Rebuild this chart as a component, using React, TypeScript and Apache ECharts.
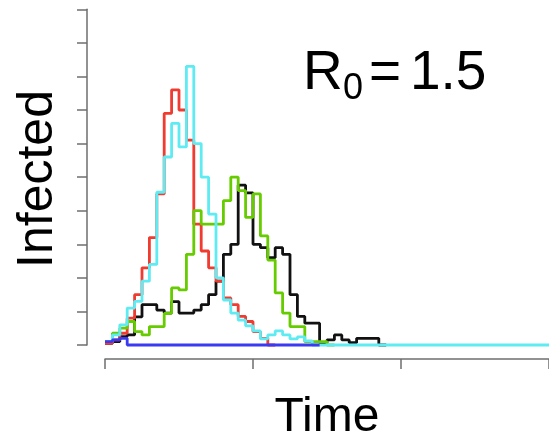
import React, { useEffect, useRef } from "react";
import * as echarts from "echarts";

// Infected counts per unit time step (t = 0, 1, 2, ...)
const redValues = [0.5, 1.5, 3.5, 8, 15, 23, 32, 45, 69, 76, 70, 61, 36, 28, 23, 19, 14, 12, 8.5, 7, 4, 2, 0];
const cyanValues = [1, 3, 6, 11, 13, 19, 24, 45.5, 56, 66, 59, 83, 60, 50, 39, 20, 13.4, 9.5, 7.4, 5.7, 4.2, 1.8, 3, 4.2, 3, 1.8, 2.4, 1.2, 0];
const greenValues = [1, 3.5, 5, 7, 4, 3, 5.5, 5.5, 9.4, 17, 16.4, 27, 40, 36, 36, 36, 43, 50, 46, 38, 45, 32.5, 25.3, 15.5, 9.5, 5.5, 5.5, 1, 1, 1, 0];
const blackValues = [0.5, 1, 2.5, 3, 8.4, 12, 12, 10.4, 9.5, 12.9, 9.5, 9.5, 10.4, 12, 15, 19, 27, 30, 47.6, 45.3, 30, 29, 26, 29, 27, 15, 8.5, 6.5, 6.5, 0.7, 1.5, 3, 1.5, 0.7, 2, 2, 2, 0];
const blueValues = [1, 1.5, 2, 0, 0, 0, 0, 0, 0, 0, 0, 0, 0, 0, 0, 0, 0, 0, 0, 0, 0, 0, 0, 0, 0, 0, 0, 0, 0];

// time at which each trajectory ends
const redEnd = 23;
const cyanEnd = 60;
const greenEnd = 31;
const blackEnd = 38;
const blueEnd = 29;

const xTicks = [0, 20, 40, 60];
const yTicks = [0, 10, 20, 30, 40, 50, 60, 70, 80, 90, 100];

const yTitle = "Infected";
const xTitle = "Time";
const rLabel = "R";
const rSub = "0";
const rEq = "=";
const rValue = "1.5";

function toSteps(values: number[], end: number) {
  const d: number[][] = values.map((v, i) => [i, v]);
  d.push([end, values[values.length - 1]]);
  return d;
}

const FONT = "'Liberation Sans', Arial, Helvetica, sans-serif";
const AXIS_COLOR = "#6e6e6e";

export default function App() {
  const ref = useRef<HTMLDivElement>(null);
  useEffect(() => {
    if (!ref.current) return;
    const chart = echarts.init(ref.current, undefined, { renderer: "svg" });
    const mk = (name: string, values: number[], end: number, color: string) => ({
      name,
      type: "line",
      step: "end",
      data: toSteps(values, end),
      showSymbol: false,
      symbol: "none",
      clip: false,
      lineStyle: { color, width: 2.8 },
      emphasis: { disabled: true },
    });
    const axisCommon = {
      type: "value",
      axisLine: { show: true, onZero: false, lineStyle: { color: AXIS_COLOR, width: 1.5 } },
      axisTick: { show: true, length: 10, lineStyle: { color: AXIS_COLOR, width: 1.5 } },
      axisLabel: { show: false },
      splitLine: { show: false },
    };
    const txt = (text: string, x: number, y: number, size: number, extra: any = {}) => ({
      type: "text",
      x,
      y,
      ...extra,
      style: { text, fontSize: size, fontFamily: FONT, fill: "#000", align: "left", verticalAlign: "middle", ...(extra.style || {}) },
    });
    chart.setOption({
      animation: false,
      grid: { left: 105, top: 9.3, width: 445.6, height: 335.7 },
      xAxis: {
        ...axisCommon,
        min: xTicks[0],
        max: xTicks[xTicks.length - 1],
        interval: 20,
        offset: 14,
      },
      yAxis: {
        ...axisCommon,
        min: yTicks[0],
        max: yTicks[yTicks.length - 1],
        interval: 10,
        offset: 18,
      },
      series: [
        mk("black", blackValues, blackEnd, "#111111"),
        mk("red", redValues, redEnd, "#ef3b30"),
        mk("green", greenValues, greenEnd, "#66cc00"),
        mk("cyan", cyanValues, cyanEnd, "#5eebf2"),
        mk("blue", blueValues, blueEnd, "#3a3af2"),
      ],
      graphic: [
        txt(yTitle, 35, 179, 50, { rotation: Math.PI / 2, style: { align: "center" } }),
        txt(xTitle, 327, 414, 48, { style: { align: "center" } }),
        txt(rLabel, 303, 70, 55),
        txt(rSub, 343, 86, 36),
        txt(rEq, 369, 70, 55),
        txt(rValue, 410, 70, 55),
      ],
    });
    return () => chart.dispose();
  }, []);
  return <div ref={ref} style={{ position: "fixed", left: 0, top: 0, width: 549, height: 440 }} />;
}
